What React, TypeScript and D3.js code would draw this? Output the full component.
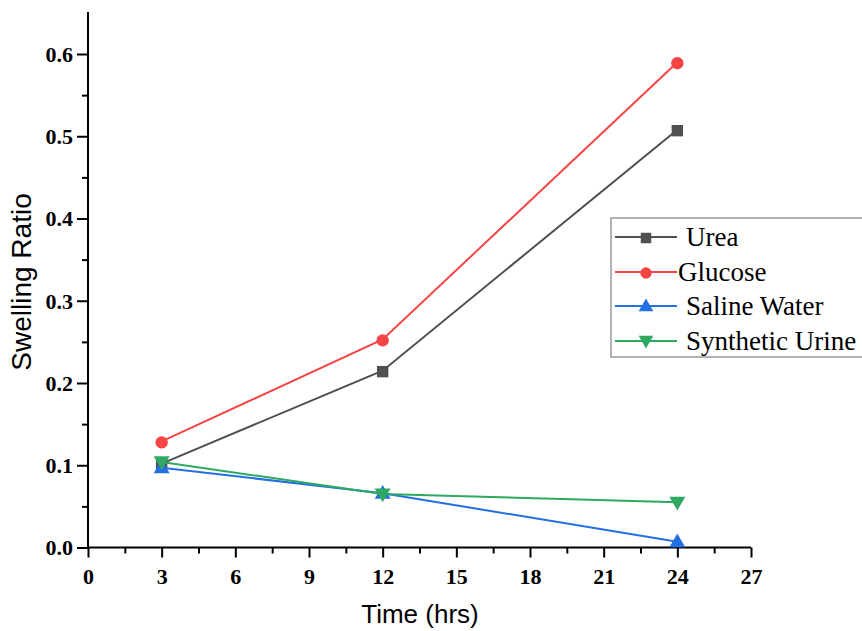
import React, { useEffect, useRef } from 'react';
import * as d3 from 'd3';

const hours = [3, 12, 24];
const urea = [0.102, 0.215, 0.508];
const glucose = [0.129, 0.253, 0.59];
const saline = [0.097, 0.066, 0.007];
const synthetic = [0.104, 0.065, 0.055];
const seriesNames = ['Urea', 'Glucose', 'Saline Water', 'Synthetic Urine'];
const xTicks = [0, 3, 6, 9, 12, 15, 18, 21, 24, 27];
const yTicks = [0, 0.1, 0.2, 0.3, 0.4, 0.5, 0.6];

const App = () => {
  const svgRef = useRef<SVGSVGElement>(null);

  useEffect(() => {
    const svg = d3.select(svgRef.current);
    svg.selectAll('*').remove();

    const x = d3.scaleLinear().domain([0, 27]).range([88, 751]);
    const y = d3.scaleLinear().domain([0, 0.6]).range([547.5, 54]);

    const series = [
      { name: seriesNames[0], values: urea, color: '#505050', shape: d3.symbolSquare, size: 130, rot: 0 },
      { name: seriesNames[1], values: glucose, color: '#f54545', shape: d3.symbolCircle, size: 120, rot: 0 },
      { name: seriesNames[2], values: saline, color: '#2370e3', shape: d3.symbolTriangle, size: 110, rot: 0 },
      { name: seriesNames[3], values: synthetic, color: '#2fa862', shape: d3.symbolTriangle, size: 110, rot: 180 },
    ];

    const serif = '"Liberation Serif", "Times New Roman", serif';
    const sans = '"Liberation Sans", Arial, sans-serif';

    // axes
    const xAxis = svg.append('g').attr('transform', `translate(0,${y(0)})`)
      .call(d3.axisBottom(x).tickValues(xTicks).tickSize(10).tickSizeOuter(0).tickFormat(d3.format('d')));
    const xMinor = svg.append('g').attr('transform', `translate(0,${y(0)})`)
      .call(d3.axisBottom(x).tickValues(d3.range(1.5, 27, 3)).tickSize(6).tickSizeOuter(0).tickFormat(() => ''));
    const yAxis = svg.append('g').attr('transform', `translate(${x(0)},0)`)
      .call(d3.axisLeft(y).tickValues(yTicks).tickSize(11).tickSizeOuter(0).tickFormat(d3.format('.1f')));
    const yMinor = svg.append('g').attr('transform', `translate(${x(0)},0)`)
      .call(d3.axisLeft(y).tickValues(d3.range(0.05, 0.65, 0.1)).tickSize(6).tickSizeOuter(0).tickFormat(() => ''));

    [xAxis, xMinor, yAxis, yMinor].forEach((g) => {
      g.attr('font-size', null).attr('font-family', null);
      g.selectAll('line').attr('stroke', '#000').attr('stroke-width', 2);
      g.selectAll('path').attr('stroke', '#000').attr('stroke-width', 2);
      g.selectAll('text').style('font-family', serif).style('font-weight', 'bold')
        .style('font-size', '22px').attr('fill', '#000');
    });
    xMinor.select('path').remove();
    yMinor.select('path').remove();
    xAxis.select('path').attr('d', `M${x(0)},0H${x(27)}`);
    yAxis.select('path').attr('d', `M0,${y(0)}V12`);
    xAxis.selectAll('text').attr('y', 36).attr('dy', null);
    yAxis.selectAll('text').attr('x', -15).attr('dy', '0.34em');

    svg.append('text').attr('x', 420).attr('y', 623).attr('text-anchor', 'middle')
      .style('font-family', sans).style('font-size', '26px').text('Time (hrs)');
    svg.append('text').attr('transform', 'translate(31,282) rotate(-90)').attr('text-anchor', 'middle')
      .style('font-family', sans).style('font-size', '28px').text('Swelling Ratio');

    const line = d3.line<number>().x((d, i) => x(hours[i])).y((d) => y(d));

    series.forEach((s) => {
      svg.append('path').datum(s.values).attr('fill', 'none').attr('stroke', s.color)
        .attr('stroke-width', 2).attr('d', line);
      svg.selectAll(null).data(s.values).enter().append('path')
        .attr('d', d3.symbol().type(s.shape).size(s.size)())
        .attr('transform', (d, i) => `translate(${x(hours[i])},${y(d) + (s.rot ? -1 : 1)}) rotate(${s.rot})`)
        .attr('fill', s.color);
    });

    // legend
    const lg = svg.append('g');
    lg.append('rect').attr('x', 611).attr('y', 218).attr('width', 270).attr('height', 139)
      .attr('fill', '#fff').attr('stroke', '#999').attr('stroke-width', 1.5);
    const rowY = [237, 272, 306, 341];
    series.forEach((s, i) => {
      const ry = rowY[i];
      lg.append('line').attr('x1', 615).attr('x2', 677).attr('y1', ry).attr('y2', ry)
        .attr('stroke', s.color).attr('stroke-width', 2);
      lg.append('path').attr('d', d3.symbol().type(s.shape).size(s.size * 0.85)())
        .attr('transform', `translate(646,${ry + (s.rot ? -1 : 1)}) rotate(${s.rot})`).attr('fill', s.color);
      lg.append('text').attr('x', i === 1 ? 678 : 686).attr('y', ry + 9)
        .style('font-family', serif).style('font-size', '27px').attr('fill', '#000').text(s.name);
    });
  }, []);

  return (
    <svg ref={svgRef} width={862} height={631}
      style={{ position: 'absolute', left: 0, top: 0, background: '#fff' }} />
  );
};

export default App;
